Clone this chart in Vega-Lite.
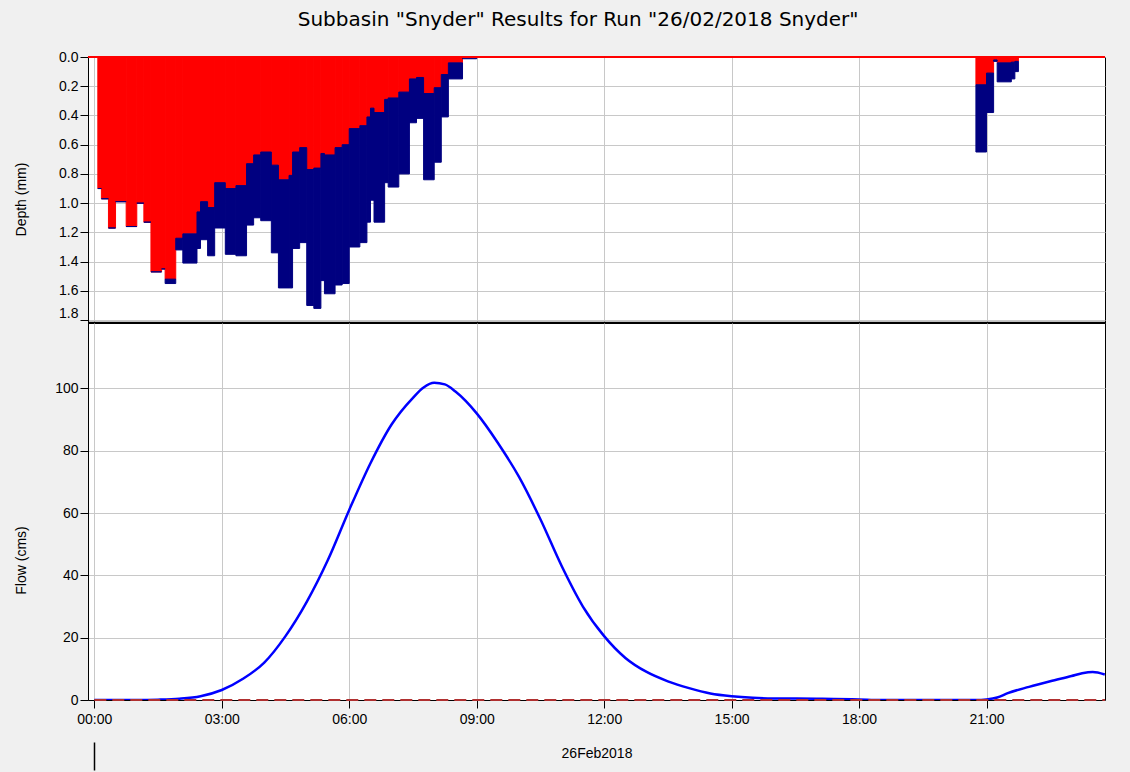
{
  "$schema": "https://vega.github.io/schema/vega-lite/v6.json",
  "background": "#f0f0f0",
  "padding": {"left": 13, "top": 9, "right": 25, "bottom": 0},
  "bounds": "flush",
  "title": {"text": "Subbasin \"Snyder\" Results for Run \"26/02/2018 Snyder\"", "fontSize": 20, "font": "DejaVu Sans", "fontWeight": "normal", "color": "#000000", "offset": 20, "anchor": "middle", "dx": 18},
  "config": {
    "font": "Liberation Sans",
    "view": {"fill": "white", "stroke": "black", "strokeWidth": 1},
    "axis": {"labelFont": "Liberation Sans", "labelFontSize": 14, "labelColor": "#000000", "titleFont": "Liberation Sans", "titleFontSize": 14, "titleFontWeight": "normal", "titleColor": "#000000", "gridColor": "#c8c8c8", "gridWidth": 1, "gridOpacity": 1, "tickColor": "#000000", "domainColor": "#000000", "labelOverlap": false}
  },
  "datasets": {
    "precip": [
      {"start": "2018-02-26T00:05", "end": "2018-02-26T00:10", "loss": 0.90, "total": 0.90},
      {"start": "2018-02-26T00:10", "end": "2018-02-26T00:20", "loss": 0.97, "total": 0.97},
      {"start": "2018-02-26T00:20", "end": "2018-02-26T00:30", "loss": 1.17, "total": 1.17},
      {"start": "2018-02-26T00:30", "end": "2018-02-26T00:45", "loss": 0.99, "total": 0.99},
      {"start": "2018-02-26T00:45", "end": "2018-02-26T01:00", "loss": 1.16, "total": 1.16},
      {"start": "2018-02-26T01:00", "end": "2018-02-26T01:10", "loss": 1.00, "total": 1.00},
      {"start": "2018-02-26T01:10", "end": "2018-02-26T01:20", "loss": 1.13, "total": 1.13},
      {"start": "2018-02-26T01:20", "end": "2018-02-26T01:35", "loss": 1.47, "total": 1.47},
      {"start": "2018-02-26T01:35", "end": "2018-02-26T01:40", "loss": 1.45, "total": 1.45},
      {"start": "2018-02-26T01:40", "end": "2018-02-26T01:55", "loss": 1.52, "total": 1.55},
      {"start": "2018-02-26T01:55", "end": "2018-02-26T02:05", "loss": 1.24, "total": 1.32},
      {"start": "2018-02-26T02:05", "end": "2018-02-26T02:25", "loss": 1.21, "total": 1.41},
      {"start": "2018-02-26T02:25", "end": "2018-02-26T02:30", "loss": 1.06, "total": 1.31},
      {"start": "2018-02-26T02:30", "end": "2018-02-26T02:40", "loss": 0.99, "total": 1.25},
      {"start": "2018-02-26T02:40", "end": "2018-02-26T02:50", "loss": 1.03, "total": 1.36},
      {"start": "2018-02-26T02:50", "end": "2018-02-26T03:05", "loss": 0.86, "total": 1.17},
      {"start": "2018-02-26T03:05", "end": "2018-02-26T03:20", "loss": 0.90, "total": 1.35},
      {"start": "2018-02-26T03:20", "end": "2018-02-26T03:35", "loss": 0.88, "total": 1.36},
      {"start": "2018-02-26T03:35", "end": "2018-02-26T03:45", "loss": 0.73, "total": 1.15},
      {"start": "2018-02-26T03:45", "end": "2018-02-26T03:55", "loss": 0.67, "total": 1.10},
      {"start": "2018-02-26T03:55", "end": "2018-02-26T04:10", "loss": 0.65, "total": 1.12},
      {"start": "2018-02-26T04:10", "end": "2018-02-26T04:20", "loss": 0.74, "total": 1.34},
      {"start": "2018-02-26T04:20", "end": "2018-02-26T04:35", "loss": 0.84, "total": 1.58},
      {"start": "2018-02-26T04:35", "end": "2018-02-26T04:40", "loss": 0.81, "total": 1.58},
      {"start": "2018-02-26T04:40", "end": "2018-02-26T04:50", "loss": 0.65, "total": 1.31},
      {"start": "2018-02-26T04:50", "end": "2018-02-26T05:00", "loss": 0.62, "total": 1.27},
      {"start": "2018-02-26T05:00", "end": "2018-02-26T05:10", "loss": 0.77, "total": 1.70},
      {"start": "2018-02-26T05:10", "end": "2018-02-26T05:20", "loss": 0.76, "total": 1.72},
      {"start": "2018-02-26T05:20", "end": "2018-02-26T05:25", "loss": 0.66, "total": 1.53},
      {"start": "2018-02-26T05:25", "end": "2018-02-26T05:40", "loss": 0.67, "total": 1.62},
      {"start": "2018-02-26T05:40", "end": "2018-02-26T05:50", "loss": 0.62, "total": 1.56},
      {"start": "2018-02-26T05:50", "end": "2018-02-26T06:00", "loss": 0.60, "total": 1.55},
      {"start": "2018-02-26T06:00", "end": "2018-02-26T06:15", "loss": 0.49, "total": 1.30},
      {"start": "2018-02-26T06:15", "end": "2018-02-26T06:25", "loss": 0.47, "total": 1.27},
      {"start": "2018-02-26T06:25", "end": "2018-02-26T06:30", "loss": 0.41, "total": 1.13},
      {"start": "2018-02-26T06:30", "end": "2018-02-26T06:35", "loss": 0.35, "total": 0.98},
      {"start": "2018-02-26T06:35", "end": "2018-02-26T06:50", "loss": 0.38, "total": 1.13},
      {"start": "2018-02-26T06:50", "end": "2018-02-26T06:55", "loss": 0.29, "total": 0.86},
      {"start": "2018-02-26T06:55", "end": "2018-02-26T07:10", "loss": 0.28, "total": 0.89},
      {"start": "2018-02-26T07:10", "end": "2018-02-26T07:25", "loss": 0.24, "total": 0.80},
      {"start": "2018-02-26T07:25", "end": "2018-02-26T07:35", "loss": 0.15, "total": 0.45},
      {"start": "2018-02-26T07:35", "end": "2018-02-26T07:45", "loss": 0.14, "total": 0.42},
      {"start": "2018-02-26T07:45", "end": "2018-02-26T08:00", "loss": 0.25, "total": 0.84},
      {"start": "2018-02-26T08:00", "end": "2018-02-26T08:10", "loss": 0.21, "total": 0.72},
      {"start": "2018-02-26T08:10", "end": "2018-02-26T08:20", "loss": 0.12, "total": 0.41},
      {"start": "2018-02-26T08:20", "end": "2018-02-26T08:40", "loss": 0.04, "total": 0.15},
      {"start": "2018-02-26T08:40", "end": "2018-02-26T09:00", "loss": 0.005, "total": 0.012},
      {"start": "2018-02-26T20:45", "end": "2018-02-26T21:00", "loss": 0.19, "total": 0.65},
      {"start": "2018-02-26T21:00", "end": "2018-02-26T21:10", "loss": 0.11, "total": 0.38},
      {"start": "2018-02-26T21:10", "end": "2018-02-26T21:15", "loss": 0.02, "total": 0.03},
      {"start": "2018-02-26T21:15", "end": "2018-02-26T21:35", "loss": 0.04, "total": 0.17},
      {"start": "2018-02-26T21:35", "end": "2018-02-26T21:40", "loss": 0.035, "total": 0.15},
      {"start": "2018-02-26T21:40", "end": "2018-02-26T21:45", "loss": 0.03, "total": 0.10}
    ],
    "flow": [
      {"time": "2018-02-26T00:00", "flow": 0},
      {"time": "2018-02-26T00:30", "flow": 0},
      {"time": "2018-02-26T01:00", "flow": 0},
      {"time": "2018-02-26T01:30", "flow": 0.1},
      {"time": "2018-02-26T02:00", "flow": 0.4},
      {"time": "2018-02-26T02:30", "flow": 1.2},
      {"time": "2018-02-26T03:00", "flow": 3.2},
      {"time": "2018-02-26T03:30", "flow": 6.8},
      {"time": "2018-02-26T04:00", "flow": 12},
      {"time": "2018-02-26T04:30", "flow": 20.5},
      {"time": "2018-02-26T05:00", "flow": 31.5},
      {"time": "2018-02-26T05:30", "flow": 45},
      {"time": "2018-02-26T06:00", "flow": 61},
      {"time": "2018-02-26T06:30", "flow": 76},
      {"time": "2018-02-26T07:00", "flow": 88.5},
      {"time": "2018-02-26T07:30", "flow": 97},
      {"time": "2018-02-26T07:45", "flow": 100.3},
      {"time": "2018-02-26T08:00", "flow": 101.8},
      {"time": "2018-02-26T08:15", "flow": 101.3},
      {"time": "2018-02-26T08:30", "flow": 99},
      {"time": "2018-02-26T09:00", "flow": 92},
      {"time": "2018-02-26T09:30", "flow": 82.5},
      {"time": "2018-02-26T10:00", "flow": 71.5},
      {"time": "2018-02-26T10:30", "flow": 58},
      {"time": "2018-02-26T11:00", "flow": 43},
      {"time": "2018-02-26T11:30", "flow": 30},
      {"time": "2018-02-26T12:00", "flow": 20.5},
      {"time": "2018-02-26T12:30", "flow": 13.5},
      {"time": "2018-02-26T13:00", "flow": 9},
      {"time": "2018-02-26T13:30", "flow": 6},
      {"time": "2018-02-26T14:00", "flow": 3.8},
      {"time": "2018-02-26T14:30", "flow": 2.1},
      {"time": "2018-02-26T15:00", "flow": 1.2},
      {"time": "2018-02-26T15:30", "flow": 0.7},
      {"time": "2018-02-26T16:00", "flow": 0.5},
      {"time": "2018-02-26T17:00", "flow": 0.4},
      {"time": "2018-02-26T18:00", "flow": 0.2},
      {"time": "2018-02-26T18:30", "flow": 0},
      {"time": "2018-02-26T20:45", "flow": 0},
      {"time": "2018-02-26T21:00", "flow": 0.2},
      {"time": "2018-02-26T21:15", "flow": 0.8},
      {"time": "2018-02-26T21:30", "flow": 2.2},
      {"time": "2018-02-26T22:00", "flow": 4.2},
      {"time": "2018-02-26T22:30", "flow": 6},
      {"time": "2018-02-26T23:00", "flow": 7.7},
      {"time": "2018-02-26T23:15", "flow": 8.6},
      {"time": "2018-02-26T23:30", "flow": 9},
      {"time": "2018-02-26T23:47", "flow": 8.2}
    ]
  },
  "spacing": 0,
  "vconcat": [
    {
      "width": 1017,
      "height": 266,
      "layer": [
        {
          "data": {"name": "precip"},
          "mark": {"type": "rect", "color": "#ff0000", "stroke": "#ff0000", "strokeWidth": 1, "clip": true},
          "encoding": {
            "x": {"field": "start", "type": "temporal",
              "scale": {"domain": [{"year": 2018, "month": 2, "date": 25, "hours": 23, "minutes": 51, "seconds": 6}, {"year": 2018, "month": 2, "date": 26, "hours": 23, "minutes": 47, "seconds": 17}]},
              "axis": {"title": null, "labels": false, "ticks": false, "domain": false, "grid": true, "tickCount": 20,
                "values": [{"year": 2018, "month": 2, "date": 26, "hours": 0}, {"year": 2018, "month": 2, "date": 26, "hours": 3}, {"year": 2018, "month": 2, "date": 26, "hours": 6}, {"year": 2018, "month": 2, "date": 26, "hours": 9}, {"year": 2018, "month": 2, "date": 26, "hours": 12}, {"year": 2018, "month": 2, "date": 26, "hours": 15}, {"year": 2018, "month": 2, "date": 26, "hours": 18}, {"year": 2018, "month": 2, "date": 26, "hours": 21}]}},
            "x2": {"field": "end"},
            "y": {"field": "loss", "type": "quantitative",
              "scale": {"domain": [0, 1.82], "reverse": true, "nice": false, "zero": true},
              "axis": {"title": "Depth (mm)", "values": [0, 0.2, 0.4, 0.6, 0.8, 1.0, 1.2, 1.4, 1.6, 1.8], "tickCount": 20, "format": ".1f", "grid": true, "tickSize": 8, "labelPadding": 2, "titleX": -60, "titleY": 142, "titleBaseline": "bottom",
                "labelBaseline": {"condition": {"test": "datum.value > 1.7", "value": "bottom"}, "value": "middle"}}},
            "y2": {"datum": 0}
          }
        },
        {
          "data": {"name": "precip"},
          "mark": {"type": "rect", "color": "#000080", "stroke": "#000080", "strokeWidth": 1, "clip": true},
          "encoding": {
            "x": {"field": "start", "type": "temporal"},
            "x2": {"field": "end"},
            "y": {"field": "total", "type": "quantitative"},
            "y2": {"field": "loss"}
          }
        },
        {
          "data": {"values": [{}]},
          "mark": {"type": "rule", "color": "#ff0000", "strokeWidth": 2},
          "encoding": {"y": {"datum": 0, "type": "quantitative"}}
        },
        {
          "data": {"values": [{}]},
          "mark": {"type": "rule", "color": "#000000", "strokeWidth": 2.5},
          "encoding": {"y": {"datum": 1.82, "type": "quantitative"}}
        }
      ]
    },
    {
      "width": 1017,
      "height": 377,
      "layer": [
        {
          "data": {"name": "flow"},
          "mark": {"type": "line", "color": "#0000ff", "strokeWidth": 2.5, "interpolate": "monotone", "clip": true},
          "encoding": {
            "x": {"field": "time", "type": "temporal",
              "scale": {"domain": [{"year": 2018, "month": 2, "date": 25, "hours": 23, "minutes": 51, "seconds": 6}, {"year": 2018, "month": 2, "date": 26, "hours": 23, "minutes": 47, "seconds": 17}]},
              "axis": {"title": "26Feb2018", "titlePadding": 20, "format": "%H:%M", "grid": true, "tickSize": 8, "labelPadding": 4, "domain": true, "tickCount": 20,
                "values": [{"year": 2018, "month": 2, "date": 26, "hours": 0}, {"year": 2018, "month": 2, "date": 26, "hours": 3}, {"year": 2018, "month": 2, "date": 26, "hours": 6}, {"year": 2018, "month": 2, "date": 26, "hours": 9}, {"year": 2018, "month": 2, "date": 26, "hours": 12}, {"year": 2018, "month": 2, "date": 26, "hours": 15}, {"year": 2018, "month": 2, "date": 26, "hours": 18}, {"year": 2018, "month": 2, "date": 26, "hours": 21}]}},
            "y": {"field": "flow", "type": "quantitative",
              "scale": {"domain": [0, 121], "nice": false},
              "axis": {"title": "Flow (cms)", "values": [0, 20, 40, 60, 80, 100], "tickCount": 20, "grid": true, "tickSize": 8, "labelPadding": 2, "titleX": -60, "titleY": 237, "titleBaseline": "bottom"}}
          }
        },
        {
          "data": {"values": [{}]},
          "mark": {"type": "rule", "color": "#b03030", "strokeWidth": 2, "strokeDash": [12, 6]},
          "encoding": {
            "y": {"datum": 0, "type": "quantitative"},
            "x": {"datum": {"year": 2018, "month": 2, "date": 26, "hours": 0}, "type": "temporal",
              "axis": {"orient": "bottom", "offset": 42, "title": null, "labels": false, "domain": false, "grid": false, "tickSize": 28, "tickWidth": 1.5,
                "values": [{"year": 2018, "month": 2, "date": 26, "hours": 0}]}},
            "x2": {"datum": {"year": 2018, "month": 2, "date": 26, "hours": 23, "minutes": 47, "seconds": 17}}
          }
        }
      ],
      "resolve": {"axis": {"x": "independent"}}
    }
  ]
}
